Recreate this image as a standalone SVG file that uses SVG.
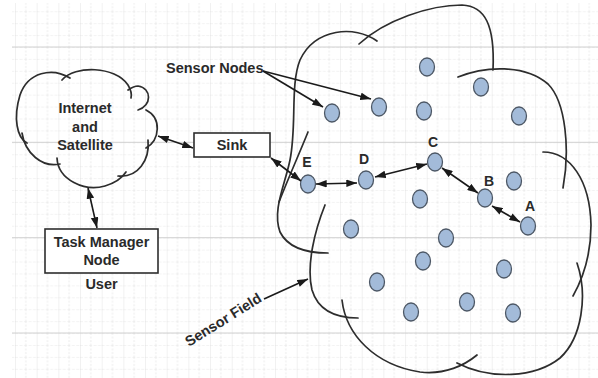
<svg xmlns="http://www.w3.org/2000/svg" width="598" height="378" viewBox="0 0 598 378">
  <defs>
    <style>
      .lbl { font-family: "Liberation Sans", Arial, sans-serif; font-weight: bold; font-size: 14.5px; fill: #2a2a2a; }
      .ltr { font-family: "Liberation Sans", Arial, sans-serif; font-weight: bold; font-size: 14px; fill: #2a2a2a; text-anchor: middle; }
      .cloud { fill: none; stroke: #2d2d2d; stroke-width: 1.7; stroke-linecap: round; }
      .box { fill: #ffffff; stroke: #2d2d2d; stroke-width: 1.6; }
      .sn { fill: #a3bbd9; stroke: #4d5866; stroke-width: 1.3; }
      .link { fill: none; stroke: #1a1a1a; stroke-width: 1.6; }
    </style>
    <marker id="ah" viewBox="0 0 10 7" refX="10" refY="3.5" markerWidth="11" markerHeight="7.5" markerUnits="userSpaceOnUse" orient="auto-start-reverse">
      <path d="M0,0 L10,3.5 L0,7 z" fill="#1a1a1a"/>
    </marker>
    <pattern id="grid" patternUnits="userSpaceOnUse" x="15" y="-0.7" width="21.67" height="11.92">
      <path d="M0,0 H21.67" stroke="#dcdcdc" stroke-width="0.7" stroke-dasharray="3 1.5"/>
      <path d="M0,0 V11.92" stroke="#d6d6d6" stroke-width="0.7"/>
      <path d="M10.83,0 V11.92" stroke="#e2e2e2" stroke-width="0.7" stroke-dasharray="2 1.5"/>
    </pattern>
  </defs>

  <!-- paper with grid -->
  <rect x="0" y="0" width="598" height="378" fill="#ffffff"/>
  <rect x="12" y="3" width="586" height="375" fill="url(#grid)"/>
  <g stroke="#d0d0d0" stroke-width="1">
    <path d="M12,47 H598 M12,142.3 H598 M12,237.7 H598 M12,333 H598"/>
  </g>

  <!-- Internet and Satellite cloud -->
  <g id="internet">
    <path class="cloud" d="M70,78 C52,67 28,72 20,95 C13,118 17,138 27,143"/>
    <path class="cloud" d="M22,133 C25,153 42,168 60,164"/>
    <path class="cloud" d="M57,158 C58,180 85,192 105,186 C115,183 122,178 126,172"/>
    <path class="cloud" d="M118,176 C138,178 150,160 148,140"/>
    <path class="cloud" d="M146,148 C160,140 162,118 146,110"/>
    <path class="cloud" d="M138,110 C152,106 152,88 138,86 C134,86 131,88 128,90"/>
    <path class="cloud" d="M62,80 C75,65 115,66 128,85 C131,90 132,94 131,98"/>
    <text class="lbl" x="85" y="113" text-anchor="middle">Internet</text>
    <text class="lbl" x="85" y="132" text-anchor="middle">and</text>
    <text class="lbl" x="85" y="150" text-anchor="middle">Satellite</text>
  </g>

  <!-- Sink -->
  <g id="sink">
    <rect class="box" x="194" y="133" width="76" height="24"/>
    <text class="lbl" x="232" y="150" text-anchor="middle">Sink</text>
  </g>

  <!-- Task Manager Node -->
  <g id="task-manager">
    <rect class="box" x="45" y="229" width="113" height="44"/>
    <text class="lbl" x="101.5" y="247" text-anchor="middle">Task Manager</text>
    <text class="lbl" x="101.5" y="265" text-anchor="middle">Node</text>
  </g>
  <g id="user">
    <text class="lbl" x="101.5" y="289" text-anchor="middle">User</text>
  </g>

  <!-- Sensor field cloud -->
  <g id="sensor-field">
    <path class="cloud" d="M377,41 C355,25 315,28 300,60 C290,85 297,125 290,160 C285,185 272,210 280,232 C288,248 308,253 328,253"/>
    <path class="cloud" d="M308,132 C300,152 290,174 279,202"/>
    <path class="cloud" d="M325,205 C315,230 306,265 312,290 C318,310 335,318 358,318"/>
    <path class="cloud" d="M342,300 C346,335 375,365 420,372 C445,375 465,365 477,355"/>
    <path class="cloud" d="M457,363 C490,380 535,378 560,358 C582,338 588,295 577,263"/>
    <path class="cloud" d="M543,152 C570,152 590,180 591,225 C591,255 582,280 573,296"/>
    <path class="cloud" d="M458,77 C485,66 525,64 548,84 C566,102 570,150 563,188"/>
    <path class="cloud" d="M359,44 C385,20 430,5 462,5 C485,6 495,25 493,70"/>
  </g>

  <!-- sensor nodes -->
  <g id="n1"><ellipse class="sn" cx="332" cy="113" rx="7.5" ry="9"/></g>
  <g id="n2"><ellipse class="sn" cx="379" cy="107" rx="7.5" ry="9"/></g>
  <g id="n3"><ellipse class="sn" cx="427" cy="67" rx="7.5" ry="9"/></g>
  <g id="n4"><ellipse class="sn" cx="481" cy="87" rx="7.5" ry="9"/></g>
  <g id="n5"><ellipse class="sn" cx="424" cy="111" rx="7.5" ry="9"/></g>
  <g id="n6"><ellipse class="sn" cx="519" cy="116" rx="7.5" ry="9"/></g>
  <g id="node-c"><ellipse class="sn" cx="435" cy="162" rx="7.5" ry="9"/><text class="ltr" x="433" y="147">C</text></g>
  <g id="node-d"><ellipse class="sn" cx="366" cy="180" rx="7.5" ry="9"/><text class="ltr" x="364" y="164">D</text></g>
  <g id="node-e"><ellipse class="sn" cx="308" cy="184" rx="7.5" ry="9"/><text class="ltr" x="307" y="167">E</text></g>
  <g id="n10"><ellipse class="sn" cx="514" cy="181" rx="7.5" ry="9"/></g>
  <g id="node-b"><ellipse class="sn" cx="485" cy="198" rx="7.5" ry="9"/><text class="ltr" x="489" y="186">B</text></g>
  <g id="node-a"><ellipse class="sn" cx="528" cy="226" rx="7.5" ry="9"/><text class="ltr" x="530" y="211">A</text></g>
  <g id="n13"><ellipse class="sn" cx="420" cy="199" rx="7.5" ry="9"/></g>
  <g id="n14"><ellipse class="sn" cx="351" cy="229" rx="7.5" ry="9"/></g>
  <g id="n15"><ellipse class="sn" cx="446" cy="238" rx="7.5" ry="9"/></g>
  <g id="n16"><ellipse class="sn" cx="423" cy="261" rx="7.5" ry="9"/></g>
  <g id="n17"><ellipse class="sn" cx="504" cy="269" rx="7.5" ry="9"/></g>
  <g id="n18"><ellipse class="sn" cx="377" cy="282" rx="7.5" ry="9"/></g>
  <g id="n19"><ellipse class="sn" cx="467" cy="302" rx="7.5" ry="9"/></g>
  <g id="n20"><ellipse class="sn" cx="411" cy="312" rx="7.5" ry="9"/></g>
  <g id="n21"><ellipse class="sn" cx="513" cy="313" rx="7.5" ry="9"/></g>

  <!-- callout labels -->
  <g id="label-sensor-nodes">
    <text class="lbl" x="166" y="73">Sensor Nodes</text>
  </g>
  <g id="label-sensor-field">
    <text class="lbl" x="189" y="347" transform="rotate(-32 189 347)">Sensor Field</text>
  </g>

  <!-- connectors -->
  <g id="connectors">
    <path class="link" d="M158,136 L193,148" marker-start="url(#ah)" marker-end="url(#ah)"/>
    <path class="link" d="M271,158 L301,181" marker-start="url(#ah)" marker-end="url(#ah)"/>
    <path class="link" d="M88,188 L97,228" marker-start="url(#ah)" marker-end="url(#ah)"/>
    <path class="link" d="M316,184 L357,183" marker-start="url(#ah)" marker-end="url(#ah)"/>
    <path class="link" d="M375,177 L427,164" marker-start="url(#ah)" marker-end="url(#ah)"/>
    <path class="link" d="M442,168 L478,193" marker-start="url(#ah)" marker-end="url(#ah)"/>
    <path class="link" d="M492,206 L520,222" marker-start="url(#ah)" marker-end="url(#ah)"/>
    <path class="link" d="M263,71 L323,107" marker-end="url(#ah)"/>
    <path class="link" d="M263,71 L371,99" marker-end="url(#ah)"/>
    <path class="link" d="M264,299 L308,279" marker-end="url(#ah)"/>
  </g>
</svg>
